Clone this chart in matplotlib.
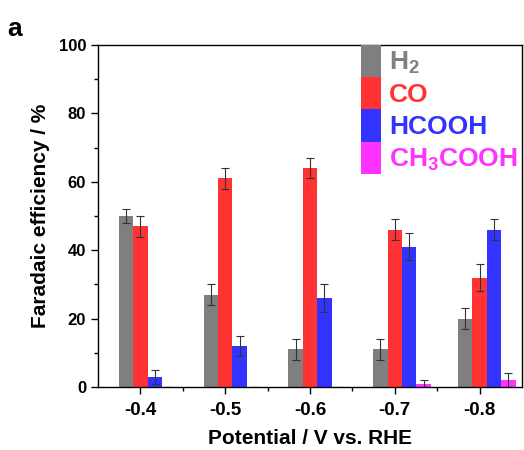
import numpy as np
import matplotlib.pyplot as plt

plt.rcParams['font.family'] = ['Liberation Sans', 'DejaVu Sans']
plt.rcParams['font.weight'] = 'bold'
plt.rcParams['mathtext.fontset'] = 'custom'
plt.rcParams['mathtext.bf'] = 'Liberation Sans:bold'
plt.rcParams['mathtext.rm'] = 'Liberation Sans:bold'
plt.rcParams['mathtext.default'] = 'bf'

potentials = ['-0.4', '-0.5', '-0.6', '-0.7', '-0.8']
products = ['H$_2$', 'CO', 'HCOOH', 'CH$_3$COOH']
colors = ['#7f7f7f', '#ff3333', '#3333ff', '#ff33ff']

fe_h2 = [50, 27, 11, 11, 20]
fe_co = [47, 61, 64, 46, 32]
fe_hcooh = [3, 12, 26, 41, 46]
fe_ch3cooh = [0, 0, 0, 1, 2]

err_h2 = [2, 3, 3, 3, 3]
err_co = [3, 3, 3, 3, 4]
err_hcooh = [2, 3, 4, 4, 3]
err_ch3cooh = [0, 0, 0, 1, 2]

values = [fe_h2, fe_co, fe_hcooh, fe_ch3cooh]
errors = [err_h2, err_co, err_hcooh, err_ch3cooh]

fig = plt.figure(figsize=(5.24, 4.5), dpi=100)
ax = fig.add_axes([0.187, 0.14, 0.809, 0.76])

x = np.arange(len(potentials))
w = 0.17
for i, (v, e, c, lab) in enumerate(zip(values, errors, colors, products)):
    ax.bar(x + (i - 1) * w, v, w, color=c, label=lab, edgecolor='none',
           yerr=e, capsize=2.8, error_kw=dict(ecolor='#333333', elinewidth=0.8, capthick=0.8))

ax.set_xlim(-0.5, 4.5)
ax.set_ylim(0, 100)
ax.set_xticks(x)
ax.set_xticklabels(potentials, fontsize=13.5)
ax.set_xticks(x[:-1] + 0.5, minor=True)
ax.set_yticks(range(0, 101, 20))
ax.set_yticks(range(10, 100, 20), minor=True)
ax.tick_params(which='major', direction='out', length=5, width=1, labelsize=12)
ax.tick_params(axis='x', which='major', labelsize=13.5, pad=6)
ax.tick_params(which='minor', direction='out', length=3, width=1)
for s in ax.spines.values():
    s.set_linewidth(1)
ax.set_xlabel('Potential / V vs. RHE', fontsize=15, fontweight='bold', labelpad=7)
ax.set_ylabel('Faradaic efficiency / %', fontsize=15, fontweight='bold', labelpad=6)

leg = ax.legend(loc='upper left', bbox_to_anchor=(0.62, 1.0), frameon=False,
                fontsize=19, handlelength=0.76, handleheight=1.5, labelspacing=0,
                handletextpad=0.3, borderpad=0, borderaxespad=0)
for t, c in zip(leg.get_texts(), colors):
    t.set_color(c)
    t.set_fontweight('bold')

fig.text(0.013, 1 - 36 / 450, 'a', fontsize=19, fontweight='bold', va='baseline')

fig.savefig('out.png', dpi=100)
